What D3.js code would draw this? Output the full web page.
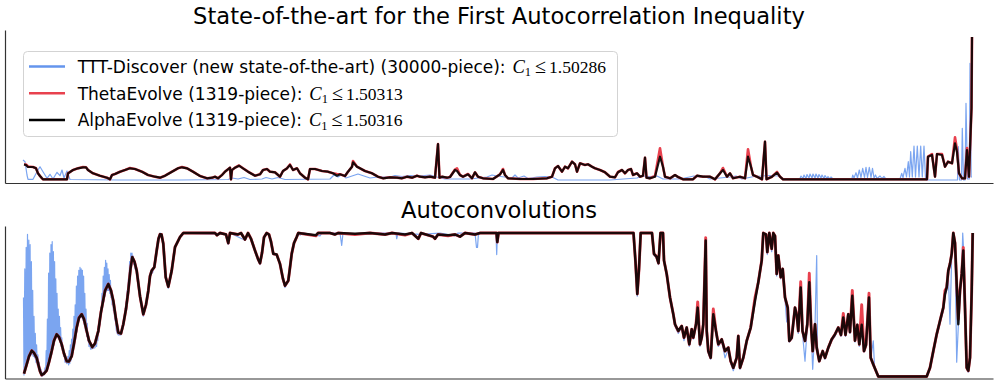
<!DOCTYPE html>
<html>
<head>
<meta charset="utf-8">
<script src="https://cdn.jsdelivr.net/npm/d3@7"></script>
<style>
body { margin: 0; background: #fff; }
svg { display: block; font-family: "DejaVu Sans", sans-serif; }
</style>
</head>
<body>
<script>
// ---- data (x = position along the support, 0..948; y = height) ----

// top panel: the step functions f
var alphaTop = [[0,17.5],[2,17],[4,15],[9,15],[12,13.7],[14,8.7],[16,6],[18,3.7],[19,2.7],[43,2.7],[44,8.7],[49,12],[54,13.7],[59,14.7],[62,14.7],[64,12],[69,8.7],[76,6.3],[83,4.3],[86,2.7],[88,7],[91,8],[96,10.3],[101,12],[106,13.7],[111,13],[118,10.3],[124,7],[131,5.3],[136,4.3],[141,6.3],[148,10.3],[154,13.7],[158,14.7],[163,13.7],[169,10.3],[176,6],[183,3.7],[188,4.3],[191,5.3],[194,3.7],[198,7],[201,10.3],[204,12.7],[206,14.3],[207,2.7],[208,12],[211,14.3],[215,16.3],[219,13.7],[224,10.3],[231,6.3],[236,7.7],[239,12],[243,13],[246,10.3],[251,9.7],[256,5.3],[259,11],[263,13.7],[266,17],[269,12],[273,13.7],[276,8.7],[281,4.3],[284,2.7],[286,13],[291,13],[298,11],[304,10.3],[309,8.7],[313,6.3],[316,7.7],[321,6],[324,10.3],[328,15.3],[329,19.7],[333,15.3],[336,13.7],[341,11],[348,8.7],[354,5.3],[359,3.7],[366,4.7],[373,4.3],[378,3.7],[383,5.3],[388,4.3],[393,6.3],[396,5.3],[401,4.7],[406,5.3],[411,4.3],[414,38],[415.5,4.3],[418,5.3],[423,4.3],[426,5],[431,12],[433,11],[436,7],[439,5.3],[444,7.7],[448,3.7],[451,9.7],[454,5.3],[459,3.7],[469,3],[476,7.7],[479,12],[481,7],[484,3.7],[496,3],[509,3],[523,3.7],[528,5.3],[531,13.7],[534,16],[538,10.3],[541,15.3],[544,13.7],[548,20.3],[551,17.7],[553,10.3],[556,18.7],[561,17],[564,17.7],[568,15.3],[571,13.7],[576,12],[581,9.7],[586,5.3],[591,4.7],[594,9.7],[598,12],[601,8.7],[604,12],[607,13],[609,7],[613,8.7],[616,5.3],[619,6.3],[621,24.3],[622.5,4.3],[626,3.7],[631,5.3],[636,25.3],[639,15.3],[641,5.3],[646,3.7],[651,7],[654,5],[659,2.7],[669,2.7],[673,6.3],[679,5.3],[686,5.3],[691,2.7],[696,8.7],[699,12],[703,5.3],[706,8.7],[709,3.7],[716,5.3],[721,3.7],[724,25.3],[727,15.3],[729,7],[733,5.3],[738,2.7],[741,40.3],[742.5,2.7],[748,5.3],[753,9.3],[756,5.3],[759,2.7],[903,2.7],[904,25.3],[908,27],[911,5.3],[913,28],[918,27],[921,15.3],[924,20.3],[928,18.7],[931,38.7],[933,30],[935,8.7],[938,3.7],[941,3.7],[943,32],[945,5.3],[947.5,73.7],[948,145]];

var thetaTop = [[0,17.5],[2,17.5],[4,15.5],[9,15],[12,13.7],[14,8.7],[16,6],[18,3.7],[19,2.7],[43,2.7],[44,8.7],[49,12],[54,13.7],[59,15],[62,14.7],[64,12],[69,8.7],[76,6.3],[83,4.3],[86,2.7],[88,7],[91,8],[96,10.3],[101,12],[106,14],[111,13],[118,10.3],[124,7],[131,5.3],[136,4.3],[141,6.3],[148,10.3],[154,13.7],[158,15],[163,13.7],[169,10.3],[176,6],[183,3.7],[188,4.3],[191,5.3],[194,3.7],[198,7],[201,10.3],[204,12.7],[206,14.3],[207,2.7],[208,12],[211,14.3],[215,16.5],[219,13.7],[224,10.3],[231,6.3],[236,7.7],[239,12],[243,13],[246,10.3],[251,9.7],[256,5.3],[259,11],[263,13.7],[266,17.5],[269,12],[273,13.7],[276,8.7],[281,4.3],[284,2.7],[286,13],[291,13],[298,11],[304,10.3],[309,8.7],[313,8],[316,7.7],[321,6],[324,10.3],[328,15.3],[329,21],[333,15.3],[336,13.7],[341,11],[348,8.7],[354,5.3],[359,3.7],[366,4.7],[373,4.3],[378,3.7],[383,5.3],[388,4.3],[393,6.3],[396,5.3],[401,4.7],[406,5.3],[411,4.3],[414,38],[415.5,4.3],[418,5.3],[423,4.3],[426,5],[431,12.5],[433,13.7],[436,7],[439,5.3],[444,8],[448,3.7],[451,9.7],[454,5.3],[459,3.7],[469,3],[476,7.7],[479,13],[481,7],[484,3.7],[496,3],[509,3],[523,3.7],[528,5.3],[531,13.7],[534,16],[538,10.3],[541,15.3],[544,13.7],[548,20.3],[551,17.7],[553,10.3],[556,18.7],[561,17],[564,17.7],[568,15.3],[571,13.7],[576,12],[581,9.7],[586,5.3],[591,4.7],[594,10],[598,12],[601,8.7],[604,12],[607,13],[609,7],[613,8.7],[616,5.3],[619,6.3],[621,24.3],[622.5,4.3],[626,3.7],[631,6],[636,33.7],[639,15.3],[641,5.3],[646,3.7],[651,7],[654,5],[659,2.7],[669,2.7],[673,6.3],[679,5.3],[686,5.3],[691,2.7],[696,8.7],[699,14],[703,5.3],[706,8.7],[709,3.7],[716,5.3],[721,3.7],[724,32.7],[727,15.3],[729,7],[733,5.3],[738,2.7],[741,40.3],[742.5,2.7],[748,5.3],[753,10],[756,5.3],[759,2.7],[903,2.7],[904,25.3],[908,28],[911,5.3],[913,28],[918,28],[921,15.3],[924,20.3],[928,18.7],[931,44.7],[933,32],[935,8.7],[938,3.7],[941,3.7],[943,34],[945,5.3],[947.5,73.7],[948,145]];

var tttTop = [[-1,22],[1,20.3],[3,7],[4,2.7],[9,2.7],[13,10.3],[16,15.3],[19,10.3],[23,3.7],[26,7.7],[29,3],[33,9.7],[36,6.3],[38,12],[40,4],[43,11],[46,2.5],[96,2],[156,2],[204,2.5],[208,4],[214,3],[220,4.5],[226,2.5],[238,3],[242,4.5],[248,3],[254,4.5],[261,2.5],[306,3],[310,7],[314,5],[318,7.5],[322,4],[328,6],[334,8],[340,6],[346,4],[354,5],[366,5],[371,6.5],[378,5.5],[386,6.5],[396,6],[406,7],[413,5],[421,3],[446,3],[463,5],[468,7],[473,6],[488,4],[491,7],[494,4],[500,6],[504,3.5],[513,5],[521,5.5],[528,5],[534,2],[586,2],[613,4],[618,6],[626,5.5],[633,6],[639,3],[656,3],[670,6],[676,5],[680,6],[686,3],[706,5],[712,6],[718,3],[730,5.5],[738,6],[746,6.5],[754,6],[760,3],[773,3.5],[776,3.5],[777,6],[779,3.5],[780,7],[782,3.5],[783,7.5],[785,4],[786,8],[788,4],[789,8],[791,4],[792,8],[794,4],[795,7.5],[797,4],[798,7],[800,3.5],[801,6.5],[803,3.5],[804,5.5],[806,3],[807,5],[809,3],[826,3],[828,3.5],[828.7,7],[830,4],[832,9.3],[833.5,4],[835.3,12],[837,4.5],[838.7,13.7],[840.5,4.5],[842,14.7],[843.5,4.5],[845.3,14.7],[847,4.5],[848.5,13.7],[850,4],[851.5,7],[853,3.5],[856,6],[858,3.5],[860,5.5],[862,3],[876,3],[877.7,8.7],[879,4.5],[881,13.7],[882.5,5],[884.3,20.3],[885.5,5],[886.7,30.3],[888.3,5],[890,36],[891.5,5],[893.3,36],[895,5],[896.7,36],[898.3,5],[900,36],[901.5,4],[903,2],[933.5,2],[934.3,35.3],[935.5,2],[937.5,2],[938.3,53.7],[939.5,2],[941,2],[942,78.7],[943.5,3],[945.3,3],[946,118.7],[947.2,5],[948,5]];

// bottom panel: autoconvolutions f*f, normalised so the plateau is 1
var alphaBot = [[0,0.02],[2.7,0.084],[5,0.14],[7.7,0.18],[10,0.165],[12.7,0.13],[16,0.037],[17.7,0.01],[20,0.02],[22.7,0.042],[25,0.1],[27.7,0.177],[30,0.25],[32.7,0.294],[35,0.275],[37.7,0.224],[40,0.16],[42.7,0.107],[45,0.105],[47.7,0.142],[50,0.23],[52.7,0.341],[55,0.41],[57.7,0.434],[60,0.4],[62.7,0.317],[65,0.25],[68.3,0.205],[71,0.23],[74.3,0.317],[77,0.45],[81,0.598],[84.3,0.645],[87,0.6],[89.3,0.528],[92,0.4],[94.3,0.306],[97,0.3],[99.3,0.364],[102,0.47],[104.3,0.598],[106.5,0.75],[108.3,0.832],[110.5,0.8],[112.7,0.738],[116,0.56],[119.3,0.434],[122,0.5],[124.3,0.598],[126,0.7],[127.7,0.738],[130.3,0.762],[132.7,0.878],[134.5,0.96],[136,0.991],[137.5,0.99],[139.3,0.925],[141.7,0.692],[144.3,0.626],[147.7,0.738],[151,0.902],[156,0.972],[159.3,1],[191,1],[193,0.985],[196,1],[202,0.99],[204.3,0.93],[206,1],[214,0.99],[217,1],[221,0.955],[224,1],[227,0.96],[231,0.878],[234,0.82],[236,0.79],[238,0.86],[240,0.97],[242.7,1],[245,0.99],[247,0.94],[249.3,0.855],[252.7,0.85],[256,0.785],[259,0.68],[261,0.633],[264.3,0.668],[266,0.76],[267.7,0.855],[270,0.93],[272.7,0.972],[274.3,1],[292,0.985],[294,1],[306,1],[311,0.99],[314,1],[331,0.995],[346,1],[361,0.99],[368,1],[381,0.99],[388,1],[394.3,0.96],[397,1],[409,0.975],[411,0.96],[414,0.99],[424,0.985],[431,0.99],[436,0.975],[441,1],[451,0.99],[456,1],[472.5,1],[473.3,0.937],[474.5,1],[609.5,1],[611.5,0.8],[613.3,0.575],[615,0.75],[616.7,1],[628,1],[630,0.855],[632.5,0.836],[634.5,0.79],[636.5,1],[639,1],[640,0.808],[642.7,0.715],[646,0.551],[649.3,0.434],[651,0.364],[654.3,0.317],[657.7,0.352],[660,0.271],[662.7,0.341],[665.3,0.224],[667.7,0.329],[669.3,0.271],[672,0.364],[673.7,0.48],[676,0.224],[677.7,0.27],[679.3,0.364],[681.7,0.948],[682.7,0.32],[684.3,0.177],[686.7,0.131],[689.3,0.434],[692,0.317],[694.3,0.224],[697.7,0.259],[701,0.177],[704.3,0.201],[706.7,0.107],[709.3,0.061],[712.7,0.131],[714.3,0.282],[716,0.061],[719.3,0.131],[722.7,0.248],[726.7,0.341],[731,0.528],[734.3,0.657],[737.7,0.808],[739.3,1],[742,0.99],[743.3,0.867],[745.3,1],[747.7,0.89],[749.3,1],[751,0.98],[752.7,0.715],[754.3,0.843],[756.7,0.692],[758.7,0.75],[761,0.551],[763.7,0.48],[765.3,0.248],[767.7,0.27],[771,0.48],[772.7,0.43],[774.3,0.317],[776.7,0.621],[778.5,0.317],[781,0.248],[783.3,0.364],[785.3,0.657],[787,0.36],[788.7,0.177],[791,0.364],[792.7,0.2],[795.3,0.107],[798.7,0.177],[801,0.13],[804.3,0.201],[807.7,0.259],[811,0.294],[814.3,0.341],[817,0.29],[819.3,0.411],[821.5,0.29],[824.3,0.434],[826,0.31],[828.3,0.563],[831,0.25],[833.3,0.36],[835.3,0.224],[837.7,0.36],[840,0.177],[842,0.22],[845,0.551],[846.7,0.131],[849.3,0.084],[852,0.038],[854.3,0],[902.7,0],[906,0.061],[909.3,0.177],[912.7,0.294],[916,0.388],[919.3,0.48],[921,0.575],[922.7,0.621],[924.3,0.738],[926,0.785],[927.7,0.855],[929.3,1],[931,0.93],[932.7,0.645],[934.3,0.364],[936,0.598],[937.7,0.715],[939.3,0.879],[941,0.48],[942.7,0.061],[944.3,0.04],[946,0.131],[947.7,0.598],[948.7,1]];

var thetaBot = [[0,0.02],[2.7,0.084],[5,0.14],[7.7,0.18],[10,0.165],[12.7,0.13],[16,0.037],[17.7,0.01],[20,0.02],[22.7,0.042],[25,0.1],[27.7,0.177],[30,0.25],[32.7,0.294],[35,0.275],[37.7,0.224],[40,0.16],[42.7,0.107],[45,0.105],[47.7,0.142],[50,0.23],[52.7,0.341],[55,0.41],[57.7,0.434],[60,0.4],[62.7,0.317],[65,0.25],[68.3,0.205],[71,0.23],[74.3,0.317],[77,0.45],[81,0.598],[84.3,0.645],[87,0.6],[89.3,0.528],[92,0.4],[94.3,0.306],[97,0.3],[99.3,0.364],[102,0.47],[104.3,0.598],[106.5,0.75],[108.3,0.832],[110.5,0.8],[112.7,0.738],[116,0.56],[119.3,0.434],[122,0.5],[124.3,0.598],[126,0.7],[127.7,0.738],[130.3,0.762],[132.7,0.878],[134.5,0.96],[136,0.991],[137.5,0.99],[139.3,0.925],[141.7,0.692],[144.3,0.626],[147.7,0.738],[151,0.902],[156,0.972],[159.3,1],[191,1],[193,0.985],[196,1],[202,0.99],[204.3,0.93],[206,1],[214,0.99],[217,1],[221,0.955],[224,1],[227,0.96],[231,0.878],[234,0.82],[236,0.79],[238,0.86],[240,0.97],[242.7,1],[245,0.99],[247,0.94],[249.3,0.855],[252.7,0.85],[256,0.785],[259,0.68],[261,0.633],[264.3,0.668],[266,0.76],[267.7,0.855],[270,0.93],[272.7,0.972],[274.3,1],[292,0.98],[294,1],[306,1],[311,0.99],[314,1],[331,0.99],[346,1],[361,0.99],[368,1],[381,0.985],[388,1],[394.3,0.96],[397,1],[409,0.975],[411,0.96],[414,0.99],[424,0.98],[431,0.99],[436,0.975],[441,1],[451,0.99],[456,1],[472.5,1],[473.3,0.937],[474.5,1],[609.5,1],[611.5,0.8],[613.3,0.575],[615,0.75],[616.7,1],[628,1],[630,0.855],[632.5,0.836],[634.5,0.79],[636.5,1],[639,1],[640,0.808],[642.7,0.715],[646,0.551],[649.3,0.434],[651,0.364],[654.3,0.317],[657.7,0.352],[660,0.271],[662.7,0.341],[665.3,0.224],[667.7,0.329],[669.3,0.271],[672,0.364],[673.7,0.52],[676,0.224],[677.7,0.27],[679.3,0.364],[681.7,0.967],[682.7,0.32],[684.3,0.177],[686.7,0.131],[689.3,0.47],[692,0.317],[694.3,0.224],[697.7,0.259],[701,0.177],[704.3,0.201],[706.7,0.107],[709.3,0.061],[712.7,0.131],[714.3,0.282],[716,0.061],[719.3,0.131],[722.7,0.248],[726.7,0.341],[731,0.55],[734.3,0.657],[737.7,0.808],[739.3,1],[742,0.99],[743.3,0.867],[745.3,1],[747.7,0.89],[749.3,1],[751,0.98],[752.7,0.715],[754.3,0.843],[756.7,0.692],[758.7,0.75],[761,0.551],[763.7,0.48],[765.3,0.248],[767.7,0.27],[771,0.48],[772.7,0.43],[774.3,0.317],[776.7,0.66],[778.5,0.317],[781,0.248],[783.3,0.364],[785.3,0.72],[787,0.36],[788.7,0.177],[791,0.364],[792.7,0.2],[795.3,0.107],[798.7,0.177],[801,0.13],[804.3,0.201],[807.7,0.259],[811,0.294],[814.3,0.341],[817,0.29],[819.3,0.44],[821.5,0.29],[824.3,0.434],[826,0.31],[828.3,0.6],[831,0.25],[833.3,0.36],[835.3,0.224],[837.7,0.5],[840,0.177],[842,0.22],[845,0.58],[846.7,0.131],[849.3,0.084],[852,0.038],[854.3,0],[902.7,0],[906,0.061],[909.3,0.177],[912.7,0.294],[916,0.388],[919.3,0.48],[921,0.6],[922.7,0.621],[924.3,0.738],[926,0.785],[927.7,0.855],[929.3,1],[931,0.93],[932.7,0.645],[934.3,0.4],[936,0.598],[937.7,0.715],[939.3,0.9],[941,0.48],[942.7,0.061],[944.3,0.04],[946,0.131],[947.7,0.598],[948.7,1]];

var tttBot = [[-0.5,0.55],[0,0.01],[0.8,0.75],[1.4,0.05],[2.2,0.9],[2.8,0.08],[3.5,0.99],[4.1,0.12],[4.8,0.95],[5.4,0.13],[6.1,0.92],[6.7,0.15],[7.4,0.8],[8,0.15],[8.7,0.6],[9.3,0.14],[10,0.42],[10.6,0.13],[11.3,0.3],[11.9,0.1],[12.6,0.22],[13.2,0.08],[13.9,0.15],[14.5,0.05],[15.2,0.1],[16,0.03],[17,0.05],[18,0],[19,0.03],[20,0.01],[21,0.06],
  [21.6,0.03],[22.2,0.18],[22.8,0.04],[23.4,0.4],[24,0.07],[24.6,0.72],[25.2,0.09],[25.8,0.86],[26.4,0.12],[27,0.92],[27.6,0.15],[28.2,0.94],[28.8,0.19],[29.4,0.87],[30,0.22],[30.6,0.8],[31.2,0.25],[31.8,0.68],[32.4,0.27],[33,0.58],[33.6,0.27],[34.2,0.47],[34.8,0.26],[35.4,0.42],[36,0.24],[36.6,0.34],[37.2,0.21],[37.8,0.27],[38.4,0.18],[39,0.2],[39.6,0.14],[40.3,0.15],[41,0.1],[42,0.1],
  [43,0.09],[44,0.14],[44.6,0.08],[45.2,0.18],[45.8,0.09],[46.4,0.22],[47,0.11],[47.6,0.26],[48.2,0.14],[48.8,0.33],[49.4,0.17],[50,0.42],[50.6,0.21],[51.2,0.5],[51.8,0.26],[52.4,0.63],[53,0.31],[53.6,0.7],[54.2,0.36],[54.8,0.74],[55.4,0.39],[56,0.76],[56.6,0.41],[57.2,0.75],[57.8,0.41],[58.4,0.74],[59,0.39],[59.6,0.7],[60.2,0.36],[60.8,0.58],[61.4,0.32],[62,0.47],[62.6,0.28],[63.2,0.37],[63.8,0.25],[64.4,0.29],[65,0.21],[65.8,0.23],[66.6,0.19],
  [71,0.2],[72,0.26],[72.6,0.21],[73.2,0.3],[73.8,0.25],[74.4,0.35],[75,0.31],[75.6,0.42],[76.2,0.36],[76.8,0.48],[77.4,0.43],[78,0.58],[78.6,0.48],[79.2,0.7],[79.8,0.52],[80.4,0.76],[81,0.56],[81.6,0.81],[82.2,0.59],[82.8,0.79],[83.4,0.6],[84,0.75],[84.6,0.6],[85.2,0.71],[85.8,0.58],[86.4,0.67],[87,0.55],[87.6,0.6],[88.2,0.5],[88.8,0.54],[89.4,0.46],[90,0.46],[90.8,0.4],[91.6,0.38],[92.4,0.32],[93.2,0.3],[94.3,0.29],
  [97,0.29],[99.3,0.35],[101,0.44],[102,0.52],[102.6,0.47],[103.2,0.6],[103.8,0.55],[104.4,0.68],[105,0.62],[105.6,0.8],[106.2,0.7],[106.8,0.86],[107.4,0.79],[108,0.86],[108.6,0.8],[109.2,0.84],[109.8,0.78],[110.4,0.8],[111,0.75],[111.6,0.76],[112.7,0.72],[116,0.55],[119.3,0.42],
  [122,0.49],[124.3,0.59],[126,0.7],[127.7,0.74],[128.5,0.72],[130.3,0.77],[132.7,0.88],[134.5,0.96],[136,1],[137.5,0.99],[139.3,0.92],[141.7,0.68],[144.3,0.615],[147.7,0.73],[151,0.9],[156,0.97],[159.3,1],[202,0.99],[204.3,0.92],[206,1],[221,0.95],[224,1],[227,0.96],[231,0.87],[234,0.81],[236,0.78],[238,0.86],[240,0.97],[242.7,1],[245,0.99],[247,0.94],[249.3,0.85],[252.7,0.85],[256,0.78],[259,0.67],[261,0.62],[264.3,0.66],[266,0.76],[267.7,0.855],[270,0.93],[272.7,0.97],[274.3,1],[276,0.985],[279,1],[296,0.98],[298,1],[316,1],[317.7,0.913],[319,1],[336,0.99],[351,1],[372,1],[372.7,0.96],[374,1],[396,0.99],[416,1],[431,0.98],[434,1],[451,1],[452.5,0.9],[453.5,0.9],[454.5,1],[472,1],[472.7,0.85],[473.5,1],[609.5,1],[611.5,0.78],[613.3,0.56],[615,0.74],[616.7,1],[628,1],[630,0.845],[632.5,0.826],[634.5,0.78],[636.5,1],[639,1],[640,0.8],[642.7,0.7],[646,0.54],[649.3,0.42],[651,0.35],[654.3,0.3],[657.7,0.345],[660,0.25],[662.7,0.33],[665.3,0.21],[667.7,0.32],[669.3,0.26],[672,0.35],[673.7,0.45],[676,0.21],[677.7,0.26],[679.3,0.35],[681.7,0.9],[682.7,0.31],[684.3,0.16],[686.7,0.12],[689.3,0.42],[692,0.3],[694.3,0.21],[697.7,0.25],[701,0.13],[704.3,0.19],[706.7,0.09],[709.3,0.04],[712.7,0.12],[714.3,0.27],[716,0.05],[719.3,0.12],[722.7,0.24],[726.7,0.33],[731,0.52],[734.3,0.65],[737.7,0.8],[739.3,1],[742,0.99],[743.3,0.85],[745.3,1],[747.7,0.87],[749.3,1],[751,0.97],[752.7,0.7],[754.3,0.83],[756.7,0.68],[758.7,0.74],[761,0.54],[762.7,0.38],[763.7,0.47],[765.3,0.24],[767.7,0.26],[771,0.47],[772.7,0.42],[774.3,0.3],[776.7,0.6],[778.5,0.3],[781,0.107],[783.3,0.35],[785.3,0.64],[787,0.35],[788.7,0.05],[791,0.35],[792.7,0.843],[793.5,0.2],[795.3,0.1],[798.7,0.17],[801,0.12],[804.3,0.19],[807.7,0.25],[811,0.28],[814.3,0.33],[817,0.28],[819.3,0.4],[821.5,0.28],[824.3,0.42],[826,0.3],[828.3,0.55],[831,0.24],[833.3,0.35],[835.3,0.21],[837.7,0.35],[840,0.17],[842,0.21],[845,0.54],[846.7,0.12],[849.3,0.248],[850.5,0.07],[852,0.03],[854.3,0],[902.7,0],[906,0.05],[909.3,0.16],[912.7,0.28],[916,0.37],[919.3,0.46],[921,0.56],[922.7,0.6],[924.3,0.72],[926,0.364],[927.7,0.84],[929.3,0.98],[931,0.9],[932.7,0.1],[934.3,0.35],[936,0.58],[937.7,0.7],[938.7,1],[939.8,0.86],[941,0.46],[942.7,0.05],[944.3,0.03],[946,0.12],[947.7,0.58],[948.7,0.98]];

// legend
var legendNames = ["TTT-Discover (new state-of-the-art) (30000-piece): ", "ThetaEvolve (1319-piece): ", "AlphaEvolve (1319-piece): "];
var legendBounds = ["1.50286", "1.50313", "1.50316"];
var seriesColors = ["#6495ed", "#e8414e", "#000000"];

var width = 997, height = 384;

var svg = d3.select("body")
	.append("svg")
	.attr("width", width)
	.attr("height", height);

// scales (x shared by both panels)
var x = d3.scaleLinear().domain([-19, 969]).range([5, 993]);
var yTop = d3.scaleLinear().domain([-1, 152]).range([183, 30]);
var yBot = d3.scaleLinear().domain([-0.014, 1.049]).range([378.5, 226]);

// draw one panel: spines, then blue, red, black on top
function panel(y, ttt, theta, alpha, bottom, title, titleY, lw){
	var g = svg.append("g");

	g.append("text")
		.attr("x", 499)
		.attr("y", titleY)
		.attr("text-anchor", "middle")
		.attr("font-size", "22.6px")
		.attr("fill", "#000")
		.text(title);

	var line = d3.line()
		.x(function(d){ return x(d[0]); })
		.y(function(d){ return y(d[1]); });

	g.append("path").datum(ttt)
		.attr("d", line)
		.attr("fill", "none")
		.attr("stroke", seriesColors[0])
		.attr("stroke-opacity", 0.85)
		.attr("stroke-width", 1.2)
		.attr("stroke-linejoin", "round");

	g.append("path").datum(theta)
		.attr("d", line)
		.attr("fill", "none")
		.attr("stroke", seriesColors[1])
		.attr("stroke-width", lw + 0.4)
		.attr("stroke-linejoin", "round");

	g.append("path").datum(alpha)
		.attr("d", line)
		.attr("fill", "none")
		.attr("stroke", seriesColors[2])
		.attr("stroke-opacity", 0.88)
		.attr("stroke-width", lw)
		.attr("stroke-linejoin", "round");

	// left and bottom spines only, no ticks
	g.append("g")
		.attr("transform", "translate(0," + bottom + ")")
		.call(d3.axisBottom(x).ticks(0).tickSizeOuter(0))
		.select(".domain").attr("stroke", "#333").attr("stroke-width", 1.2);

	g.append("g")
		.attr("transform", "translate(5,0)")
		.call(d3.axisLeft(y).ticks(0).tickSizeOuter(0))
		.select(".domain").attr("stroke", "#333").attr("stroke-width", 1.2);
}

panel(yTop, tttTop, thetaTop, alphaTop, 183, "State-of-the-art for the First Autocorrelation Inequality", 23.5, 2.2);
panel(yBot, tttBot, thetaBot, alphaBot, 378.5, "Autoconvolutions", 217.5, 2.5);

// legend box
var legend = svg.append("g");
legend.append("rect")
	.attr("x", 23.5)
	.attr("y", 51.5)
	.attr("width", 594)
	.attr("height", 85)
	.attr("rx", 4)
	.attr("fill", "#fff")
	.attr("fill-opacity", 0.8)
	.attr("stroke", "#d3d3d3")
	.attr("stroke-width", 1);

var rowY = [66.5, 93.3, 120];
for (var i = 0; i < legendNames.length; i++)
{
	legend.append("line")
		.attr("x1", 29)
		.attr("x2", 65)
		.attr("y1", rowY[i])
		.attr("y2", rowY[i])
		.attr("stroke", seriesColors[i])
		.attr("stroke-width", 2.5);

	var t = legend.append("text")
		.attr("x", 77.7)
		.attr("y", rowY[i] + 6.3)
		.attr("font-size", "17px")
		.style("white-space", "pre");
	t.append("tspan").text(legendNames[i]);
	t.append("tspan")
		.attr("font-family", "'Liberation Serif', serif")
		.attr("font-style", "italic")
		.attr("font-size", "18.5px")
		.attr("dx", 1.5)
		.text("C");
	t.append("tspan")
		.attr("font-family", "'Liberation Serif', serif")
		.attr("font-size", "12.5px")
		.attr("dy", 3.5)
		.text("1");
	t.append("tspan")
		.attr("font-family", "'Liberation Serif', serif")
		.attr("font-size", "20px")
		.attr("dy", -3.5)
		.attr("dx", 4)
		.text("\u2264");
	t.append("tspan")
		.attr("font-family", "'Liberation Serif', serif")
		.attr("font-size", "17.5px")
		.attr("dx", 3)
		.text(legendBounds[i]);
}
</script>
</body>
</html>
